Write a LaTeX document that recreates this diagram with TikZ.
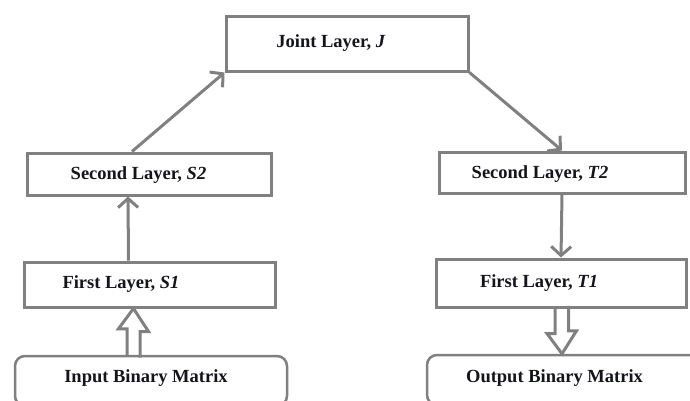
\documentclass[tikz,border=0pt]{standalone}
\usepackage{fontspec}
\setmainfont{Liberation Serif}
\usepackage{tikz}
\usetikzlibrary{arrows.meta, positioning, calc}
\definecolor{mygrey}{RGB}{128,128,128}
\definecolor{mytext}{RGB}{20,20,30}
\tikzset{
  layer/.style={rectangle, draw=mygrey, line width=3pt, fill=white},
  ioblock/.style={rectangle, draw=mygrey, line width=2.5pt, fill=white,
    rounded corners=10pt},
  lbl/.style={font=\fontsize{18.5}{21}\selectfont\bfseries, color=mytext},
  arrow/.style={-{Straight Barb[length=9pt,width=20pt]}, line width=3pt, color=mygrey},
  hollow/.style={line width=3pt, color=mygrey, line join=miter}
}
\begin{document}
\begin{tikzpicture}[x=1pt, y=-1pt]
  \useasboundingbox (0,0) rectangle (690,400);

  % layer boxes
  \node[layer, minimum width=242pt, minimum height=55pt] (joint) at (347,43.5) {};
  \node[layer, minimum width=244pt, minimum height=42pt] (s2) at (149,174) {};
  \node[layer, minimum width=251pt, minimum height=45pt] (s1) at (149.5,284.5) {};
  \node[layer, minimum width=246pt, minimum height=41pt] (t2) at (562,172.5) {};
  \node[layer, minimum width=250pt, minimum height=48pt] (t1) at (561,283) {};
  \node[ioblock, minimum width=272pt, minimum height=50pt] (inp) at (151,381) {};
  \node[ioblock, minimum width=278pt, minimum height=50pt] (outp) at (566,380) {};

  % labels
  \node[lbl] (jointlbl) at (331,43) {Joint Layer, \textit{J}};
  \node[lbl] (s2lbl) at (138.5,175) {Second Layer, \textit{S2}};
  \node[lbl] (s1lbl) at (121,284) {First Layer, \textit{S1}};
  \node[lbl] (t2lbl) at (540,174) {Second Layer, \textit{T2}};
  \node[lbl] (t1lbl) at (539,283) {First Layer, \textit{T1}};
  \node[lbl] (inplbl) at (146,378) {Input Binary Matrix};
  \node[lbl] (outplbl) at (554.5,378) {Output Binary Matrix};

  % connectors
  \draw[arrow] ([xshift=-21pt]s1.north) -- ([xshift=-21pt]s2.south);
  \draw[arrow] ([xshift=-17pt]s2.north) -- (joint.south west);
  \draw[arrow] (joint.south east) -- (t2.north);
  \draw[arrow] (t2.south) -- (t1.north);

  % hollow arrows
  \draw[hollow] ([xshift=-24pt]inp.north) -- ++(0,-26) -- ++(-8.5,0)
    -- ([xshift=-16pt]s1.south) -- ++(15,23) -- ++(-8.5,0) -- ++(0,26);
  \draw[hollow] ([xshift=-6pt]t1.south) -- ++(0,25) -- ++(-8,0)
    -- ([xshift=-4pt]outp.north) -- ++(14.5,-23) -- ++(-8,0) -- ++(0,-25);
\end{tikzpicture}
\end{document}
